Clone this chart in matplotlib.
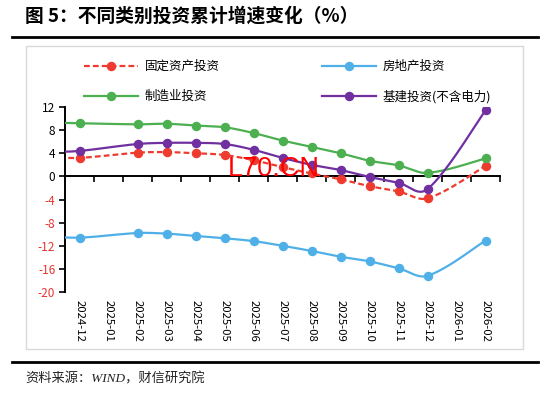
import numpy as np
import matplotlib
matplotlib.use("Agg")
import matplotlib.pyplot as plt
from matplotlib.patches import Rectangle
from matplotlib.lines import Line2D
from matplotlib.transforms import blended_transform_factory

plt.rcParams['font.family'] = ['Noto Sans CJK SC', 'DejaVu Sans']

# ---- data ----
months = ['2024-11', '2024-12', '2025-01', '2025-02', '2025-03', '2025-04', '2025-05',
          '2025-06', '2025-07', '2025-08', '2025-09', '2025-10', '2025-11', '2025-12',
          '2026-01', '2026-02']
nan = np.nan
fai = [3.3, 3.2, nan, 4.1, 4.2, 4.0, 3.7, 2.8, 1.6, 0.5, -0.5, -1.7, -2.6, -3.8, nan, 1.8]
realestate = [-10.4, -10.6, nan, -9.8, -9.9, -10.3, -10.7, -11.2, -12.0, -12.9, -13.9, -14.7, -15.9, -17.2, nan, -11.1]
manufacturing = [9.3, 9.2, nan, 9.0, 9.1, 8.8, 8.5, 7.5, 6.2, 5.1, 4.0, 2.7, 1.9, 0.6, nan, 3.1]
infra = [4.2, 4.4, nan, 5.6, 5.8, 5.8, 5.6, 4.6, 3.2, 2.0, 1.1, -0.1, -1.1, -2.2, nan, 11.4]

names = ['固定资产投资', '房地产投资', '制造业投资', '基建投资(不含电力)']
yticks = [12, 8, 4, 0, -4, -8, -12, -16, -20]

colors = ['#EE3B2F', '#4FB0E8', '#4CAF50', '#7030A0']
styles = [(0, (2.6, 1.4)), '-', '-', '-']


def smooth(xs, ys, n=24):
    pts = np.column_stack([xs, ys])
    out = []
    m = len(pts)
    for i in range(m - 1):
        p0 = pts[max(i - 1, 0)]
        p1 = pts[i]
        p2 = pts[i + 1]
        p3 = pts[min(i + 2, m - 1)]
        h1 = p2[0] - p1[0]
        h0 = p1[0] - p0[0] if i > 0 else h1
        h2 = p3[0] - p2[0] if i + 2 < m else h1
        c1 = p1 + (p2 - p0) * (h1 / (h0 + h1)) / 3.0
        c2 = p2 - (p3 - p1) * (h1 / (h1 + h2)) / 3.0
        t = np.linspace(0, 1, n)[:, None]
        seg = ((1 - t) ** 3) * p1 + 3 * ((1 - t) ** 2) * t * c1 + 3 * (1 - t) * t ** 2 * c2 + t ** 3 * p2
        out.append(seg if i == 0 else seg[1:])
    seg = np.vstack(out)
    return seg[:, 0], seg[:, 1]


W, H = 550, 395
fig = plt.figure(figsize=(5.5, 3.95), dpi=100)

# frame, title, rules
fig.patches.append(Rectangle((26 / W, 1 - 349 / H), (523 - 26) / W, (349 - 46) / H,
                             transform=fig.transFigure, fill=False, edgecolor='#D9D9D9', lw=1.0))
fig.add_artist(Line2D([12 / W, 538 / W], [1 - 37 / H, 1 - 37 / H], transform=fig.transFigure,
                      color='black', lw=2.0))
fig.add_artist(Line2D([12 / W, 538 / W], [1 - 362 / H, 1 - 362 / H], transform=fig.transFigure,
                      color='black', lw=2.0))
fig.text(25 / W, 1 - 16 / H, '图 5：不同类别投资累计增速变化（%）', fontsize=13.5, fontweight='bold',
         va='center', ha='left')
fig.text(25 / W, 1 - 379 / H, '资料来源：WIND，财信研究院', fontsize=9.5, va='center', ha='left',
         family=['Liberation Serif', 'Noto Sans CJK SC'], style='italic', color='#222222')

ax = fig.add_axes([65 / W, 1 - 292 / H, 435 / W, 185 / H])
x_all = np.arange(len(months))

series = [fai, realestate, manufacturing, infra]
handles = []
for vals, c, ls, nm in zip(series, colors, styles, names):
    v = np.array(vals, dtype=float)
    mask = ~np.isnan(v)
    sx, sy = smooth(x_all[mask].astype(float), v[mask])
    ax.plot(sx, sy, color=c, lw=1.6, ls=ls, zorder=3, solid_capstyle='round')
    ax.plot(x_all[mask], v[mask], 'o', color=c, ms=5.8, zorder=4)
    handles.append(Line2D([], [], color=c, lw=1.6, ls=ls, marker='o', ms=5.8))

ax.set_xlim(0.5, len(months) - 0.5)
ax.set_ylim(-20, 12)
ax.set_yticks(yticks)
ax.set_yticklabels([str(t) for t in yticks])
for lab, t in zip(ax.get_yticklabels(), yticks):
    lab.set_color('#E8332F' if t < 0 else 'black')
ax.tick_params(axis='y', direction='out', length=4, width=1.2, labelsize=8.5, pad=3)

ax.spines['top'].set_visible(False)
ax.spines['right'].set_visible(False)
ax.spines['left'].set_linewidth(1.4)
ax.spines['bottom'].set_position(('data', 0))
ax.spines['bottom'].set_linewidth(1.4)
ax.set_xticks(np.arange(0.5, len(months), 1.0))
ax.set_xticklabels([])
ax.tick_params(axis='x', direction='out', length=4.5, width=1.2)
ax.patch.set_alpha(0)

trans = blended_transform_factory(ax.transData, ax.transAxes)
for i, m in enumerate(months):
    if i == 0:
        continue
    ax.text(i, -0.045, m, rotation=-90, ha='center', va='top', fontsize=8.2,
            transform=trans, family=['Noto Sans CJK SC', 'DejaVu Sans'])

order = [0, 2, 1, 3]
leg = fig.legend([handles[i] for i in order], [names[i] for i in order], ncol=2, loc='upper left',
                 bbox_to_anchor=(84 / W, 1 - 60 / H), frameon=False, fontsize=9,
                 handlelength=4.3, handletextpad=0.55, columnspacing=8.2,
                 labelspacing=1.35, borderpad=0, borderaxespad=0)

fig.text(228 / W, 1 - 176 / H, 'L70.CN', color='#FF0000', fontsize=19.5, va='baseline',
         ha='left', family='Liberation Sans', zorder=10)

fig.savefig('out.png', dpi=100)
